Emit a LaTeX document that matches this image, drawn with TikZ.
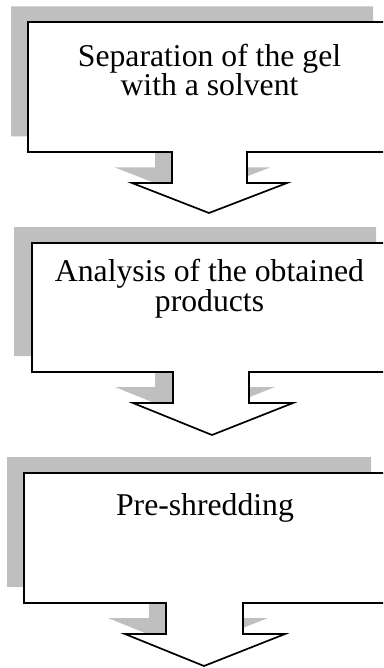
\documentclass[tikz,border=0pt]{standalone}
\usepackage{fontspec}
\setmainfont{Liberation Serif}
\begin{document}
\begin{tikzpicture}[x=1pt,y=-1pt,
  shadowshape/.style={fill=black!25,draw=none},
  calloutshape/.style={fill=white,draw=black,line width=1.7pt,line join=miter},
  boxlabel/.style={font=\fontsize{31.7}{29.5}\selectfont,align=center,inner sep=0pt,anchor=base}]
\useasboundingbox (0,0) rectangle (383,668);
\clip (0,0) rectangle (383,668);
% block 1
\foreach \dx/\dy/\st in {-17/-15.5/shadowshape,0/0/calloutshape}{
  \draw[\st,shift={(\dx,\dy)}] (28,22) -- (390,22) -- (390,152) -- (247,152) -- (247,183) -- (287,183)
    -- (209,213) -- (132,183) -- (172,183) -- (172,152) -- (28,152) -- cycle;
}
\node[boxlabel] (t1) at (209.5,96) {Separation of the gel\\with a solvent};
% block 2
\foreach \dx/\dy/\st in {-18/-16/shadowshape,0/0/calloutshape}{
  \draw[\st,shift={(\dx,\dy)}] (32,243) -- (394,243) -- (394,372) -- (249,372) -- (249,403) -- (293,403)
    -- (212,435) -- (133,403) -- (173,403) -- (173,372) -- (32,372) -- cycle;
}
\node[boxlabel] (t2) at (209.5,311) {Analysis of the obtained\\products};
% block 3
\foreach \dx/\dy/\st in {-17/-16/shadowshape,0/0/calloutshape}{
  \draw[\st,shift={(\dx,\dy)}] (24,473) -- (388,473) -- (388,603) -- (243,603) -- (243,634) -- (285,634)
    -- (204,666) -- (125,634) -- (166,634) -- (166,603) -- (24,603) -- cycle;
}
\node[boxlabel] (t3) at (205,515) {Pre-shredding};
\end{tikzpicture}
\end{document}
